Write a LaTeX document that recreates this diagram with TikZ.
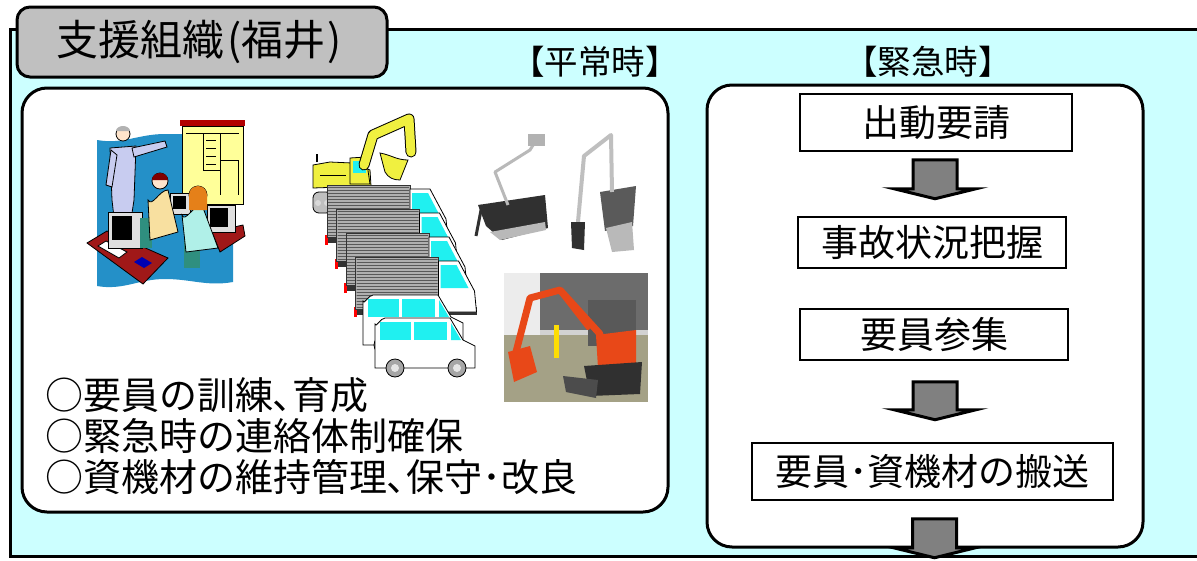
\documentclass[tikz,border=0pt]{standalone}
\usepackage{fontspec}
\newfontfamily\jp{Noto Sans CJK JP}
\usetikzlibrary{calc,patterns}
\definecolor{cyanbg}{HTML}{CCFFFF}
\definecolor{tabgray}{HTML}{C0C0C0}
\definecolor{arrowgray}{HTML}{808080}
\definecolor{clipblue}{HTML}{2490C8}
\definecolor{boardyellow}{HTML}{FFFF99}
\definecolor{coat}{HTML}{C8CCF0}
\definecolor{deskred}{HTML}{A01818}
\definecolor{tan}{HTML}{F8E0A0}
\definecolor{shirtcyan}{HTML}{B0F0E8}
\definecolor{chair}{HTML}{2F8F7F}
\definecolor{exyellow}{HTML}{F0F040}
\definecolor{boxgray}{HTML}{B0B0B0}
\definecolor{wincyan}{HTML}{20F0F0}
\definecolor{robotdark}{HTML}{303030}
\definecolor{exorange}{HTML}{E84818}
\tikzset{
  frame/.style={draw=black, line width=3pt, fill=cyanbg},
  tab/.style={draw, line width=3pt, fill=tabgray, rounded corners=13pt,
    minimum width=370pt, minimum height=70pt, inner sep=0pt},
  tabtext/.style={inner sep=0pt, font=\jp\fontsize{42}{42}\selectfont},
  panel/.style={draw, line width=3pt, fill=white, rounded corners=25pt},
  flowbox/.style={draw, line width=1.5pt, fill=white, inner sep=0pt,
    font=\jp\fontsize{37}{37}\selectfont},
  blockarrow/.style={draw, line width=3pt, fill=arrowgray, line join=miter},
  heading/.style={inner sep=0pt, font=\jp\fontsize{33.5}{33.5}\selectfont},
  bodytext/.style={anchor=base west, inner sep=0pt, font=\jp\fontsize{38}{41}\selectfont},
  thin/.style={draw=black, line width=0.8pt},
}
\begin{document}
\begin{tikzpicture}[x=1pt,y=-1pt]
\useasboundingbox (0,0) rectangle (1197,560);
\clip (0,0) rectangle (1197,560);
% outer frame
\path[frame] (10,29) rectangle (1215,556);
% title tab
\node[tab] (title) at (202,42) {};
\node[tabtext] (titletext) at (199,42) {支援組織\kern3pt(福井\kern2pt)};
% headings
\node[heading] (hnormal) at (595,62) {【平常時】};
\node[heading] (hemerg) at (928,62) {【緊急時】};
% panels
\path[panel] (22,88) rectangle (668,512);
\path[panel] (707,85) rectangle (1143,547);

% ---------- clip art: training ----------
\fill[clipblue] (97,140) to[out=-10,in=180] (165,134) to[out=0,in=190] (233,130)
  -- (233,282) to[out=190,in=0] (165,279) to[out=180,in=-10] (97,286) -- cycle;
\fill[red!70!black] (180,120) rectangle (245,126);
\draw[thin, fill=boardyellow] (182,126) rectangle (243,204);
\draw[line width=0.5pt] (186,133) -- (239,133) (203,133) -- (203,170) (220,133) -- (220,195)
  (203,170) -- (220,170) (220,160) -- (238,160) (238,160) -- (238,195);
\foreach \yy in {140,148,156,164} {\draw[line width=0.5pt] (206,\yy) -- (216,\yy);}
% standing person
\draw[thin, fill=coat] (110,148) -- (136,146) -- (134,200) -- (130,226) -- (115,226) -- (112,200) -- cycle;
\draw[thin, fill=coat] (132,148) -- (165,141) -- (167,147) -- (134,157) -- cycle;
\draw[thin, fill=coat] (111,150) -- (106,185) -- (112,187) -- (117,155) -- cycle;
\draw[thin, fill=orange!20] (123,134) circle (7);
\fill[gray!60] (116,131) arc (180:360:7 and 5) -- cycle;
% left desk
\draw[thin, fill=deskred] (87,243) -- (107,231) -- (168,258) -- (143,284) -- cycle;
\draw[thin, fill=white] (98,246) -- (106,241) -- (127,252) -- (119,258) -- cycle;
\fill[blue!70!black] (134,262) -- (142,257) -- (152,263) -- (144,268) -- cycle;
% monitors
\draw[thin, fill=gray!25] (108,212) rectangle (142,248);
\fill[black] (112,216) rectangle (132,240);
\draw[thin, fill=gray!25] (170,193) rectangle (190,214);
\fill[black] (173,196) rectangle (186,209);
% seated person 1
\fill[chair] (140,218) rectangle (152,248);
\draw[thin, fill=tan] (148,200) to[out=-60,in=180] (168,190) -- (178,232) -- (150,240) -- cycle;
\draw[thin, fill=orange!20] (160,181) circle (8);
\fill[red!50!black] (152,180) arc (180:360:8 and 7) -- cycle;
% right desk and monitor
\draw[thin, fill=deskred] (212,232) -- (243,225) -- (245,236) -- (220,252) -- cycle;
\draw[thin, fill=gray!25] (207,205) rectangle (235,232);
\fill[black] (210,208) rectangle (228,227);
% seated person 2
\fill[chair] (184,238) rectangle (200,268);
\draw[thin, fill=shirtcyan] (182,215) to[out=-70,in=180] (202,205) -- (218,248) -- (186,252) -- cycle;
\draw[thin, fill=orange!20] (198,195) circle (9);
\fill[orange!60!brown] (189,195) arc (180:360:9 and 9) -- (207,210) -- (189,210) -- cycle;

% ---------- excavator ----------
\draw[thin, fill=gray!50, rounded corners=6pt] (313,192) rectangle (332,213);
\fill[gray!30] (318,203) circle (3) (327,203) circle (3);
\draw[line width=2pt] (317,162) -- (317,154);
\draw[thin, fill=exyellow] (313,165) -- (330,162) -- (352,163) -- (370,170) -- (371,186) -- (313,188) -- cycle;
\draw[line width=0.5pt] (320,175) -- (346,175);
\draw[thin, fill=exyellow] (350,158) -- (366,157) -- (370,184) -- (350,184) -- cycle;
\fill[wincyan] (353,161) rectangle (366,173);
\draw[line width=11pt, black, line join=round, line cap=round] (364,165) -- (373,135) -- (409,119) -- (411,152);
\draw[line width=9pt, exyellow, line join=round, line cap=round] (364,165) -- (373,135) -- (409,119) -- (411,152);
\draw[thin, fill=exyellow] (380,153) to[out=-10,in=180] (408,160) -- (400,180) to[out=180,in=-60] (385,172) -- cycle;

% ---------- trucks ----------
\foreach \i in {0,1,2,3} {
  \pgfmathsetmacro{\xo}{327+9.5*\i}
  \pgfmathsetmacro{\yo}{185+24*\i}
  \pgfmathsetmacro{\bx}{\xo+83}
  \fill[gray!40!black] (\xo,\yo+50) rectangle (\bx+38,\yo+58);
  \fill[red] (\xo-2,\yo+50) rectangle (\xo+1,\yo+60);
  \draw[line width=0.8pt, draw=gray!40!black, fill=boxgray] (\xo,\yo) rectangle (\bx,\yo+52);
  \fill[pattern=horizontal lines, pattern color=gray!70!black] (\xo+1,\yo+2) rectangle (\bx-1,\yo+51);
  \draw[thin, fill=white] (\bx,\yo+4) -- (\bx+20,\yo+4) -- (\bx+36,\yo+34) -- (\bx+38,\yo+55) -- (\bx,\yo+55) -- cycle;
  \fill[wincyan] (\bx+2,\yo+8) -- (\bx+18,\yo+8) -- (\bx+30,\yo+31) -- (\bx+2,\yo+31) -- cycle;
}
% vans
\foreach \vx/\vy in {363/295, 375/318} {
  \draw[thin, fill=white] (\vx,\vy+6) to[out=-80,in=180] (\vx+10,\vy) -- (\vx+75,\vy)
    -- (\vx+88,\vy+22) -- (\vx+100,\vy+28) -- (\vx+100,\vy+50) -- (\vx,\vy+50) -- cycle;
  \fill[wincyan] (\vx+5,\vy+4) rectangle (\vx+36,\vy+22);
  \fill[wincyan] (\vx+39,\vy+4) rectangle (\vx+72,\vy+22);
  \fill[wincyan] (\vx+76,\vy+5) -- (\vx+86,\vy+22) -- (\vx+76,\vy+22) -- cycle;
  \draw[thin, fill=gray!70] (\vx+20,\vy+50) circle (9);
  \draw[thin, fill=gray!70] (\vx+82,\vy+50) circle (9);
  \fill[gray!20] (\vx+20,\vy+50) circle (4);
  \fill[gray!20] (\vx+82,\vy+50) circle (4);
}

% ---------- robots ----------
\fill[robotdark] (478,205) -- (545,195) -- (548,228) -- (502,240) -- (486,226) -- cycle;
\fill[gray!55] (490,232) -- (545,222) -- (546,230) -- (500,240) -- cycle;
\draw[line width=3pt, gray!55, line join=round] (508,205) -- (495,172) -- (530,150) -- (535,142);
\fill[gray!60] (528,134) rectangle (545,146);
\draw[line width=3pt, robotdark] (482,205) -- (476,236);
\fill[robotdark!80] (600,192) -- (636,186) -- (633,226) -- (605,231) -- cycle;
\fill[gray!55] (606,228) -- (632,222) -- (634,250) -- (612,252) -- cycle;
\draw[line width=4pt, gray!50, line join=round] (612,192) -- (611,135) -- (584,156) -- (578,222);
\fill[robotdark] (571,222) -- (585,222) -- (584,250) -- (572,248) -- cycle;

% ---------- mini excavator photo ----------
\fill[gray!35] (504,273) rectangle (648,402);
\fill[gray!15] (504,273) rectangle (540,335);
\fill[gray!85!black] (540,273) rectangle (648,330);
\fill[gray!55!yellow!40!gray] (504,335) rectangle (648,402);
\fill[yellow!80!orange] (554,325) rectangle (559,358);
\fill[gray!70!black] (588,300) rectangle (636,346);
\fill[exorange] (596,335) -- (636,330) -- (636,366) -- (598,368) -- cycle;
\fill[robotdark] (584,366) -- (642,362) -- (640,394) -- (590,396) -- cycle;
\fill[gray!60!black] (563,376) -- (598,380) -- (596,398) -- (566,392) -- cycle;
\draw[line width=7pt, exorange, line join=round, line cap=round] (600,334) -- (560,290) -- (530,298) -- (516,352);
\draw[line width=4pt, exorange, line cap=round] (560,292) -- (588,328);
\fill[exorange] (508,352) -- (530,346) -- (537,372) -- (514,382) -- cycle;

% ---------- body text ----------
\node[bodytext] (t1) at (45,409) {○要員の訓練､育成};
\node[bodytext] (t2) at (45,450) {○緊急時の連絡体制確保};
\node[bodytext] (t3) at (45,491) {○資機材の維持管理､保守･改良};

% ---------- emergency flow ----------
\node[flowbox, minimum width=272pt, minimum height=57pt] (b1) at (936,122.5) {出動要請};
\node[flowbox, minimum width=268pt, minimum height=51pt] (b2) at (932,242.5) {事故状況把握};
\node[flowbox, minimum width=268pt, minimum height=51pt] (b3) at (934,334.5) {要員参集};
\node[flowbox, minimum width=361pt, minimum height=57pt] (b4) at (932.5,471.5) {要員･資機材の搬送};

\draw[blockarrow] ($(b1.south)+(-23,8)$) -- ++(44,0) -- ++(0,29) -- ++(19,0) -- ++(-41,10) -- ++(-41,-10) -- ++(19,0) -- cycle;
\draw[blockarrow] ($(b3.south)+(-21,21)$) -- ++(44,0) -- ++(0,28) -- ++(19,0) -- ++(-41,10) -- ++(-41,-10) -- ++(19,0) -- cycle;
\draw[blockarrow] ($(b4.south)+(-20,18)$) -- ++(44,0) -- ++(0,29) -- ++(19,0) -- ++(-41,10) -- ++(-41,-10) -- ++(19,0) -- cycle;
\end{tikzpicture}
\end{document}
